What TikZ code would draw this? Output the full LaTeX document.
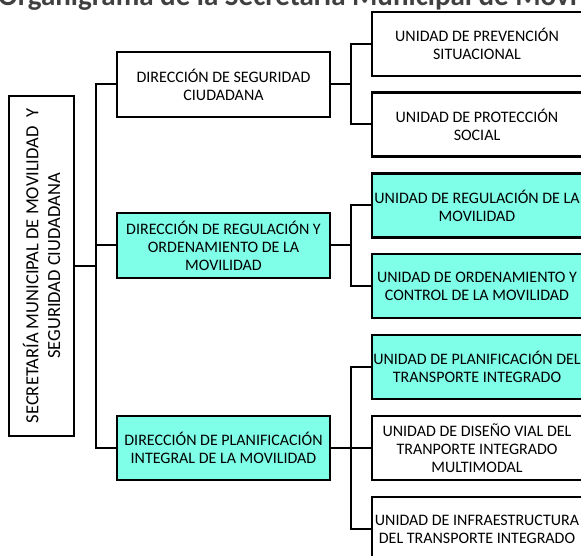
\documentclass[tikz,border=0pt]{standalone}
\usepackage{fontspec}
\setmainfont{Carlito}
\definecolor{aqua}{RGB}{128,255,232}
\definecolor{titlegray}{RGB}{64,64,64}
\begin{document}
\begin{tikzpicture}[x=1pt,y=-1pt,
  box/.style={draw=black, line width=2.4pt, align=center, inner sep=0pt, fill=white,
    font=\fontsize{16}{18}\selectfont},
  unitbox/.style={box, minimum width=210pt, minimum height=64pt},
  dirbox/.style={box, minimum width=213pt, minimum height=65pt},
  hl/.style={fill=aqua},
  conn/.style={line width=2pt},
  thickconn/.style={line width=2.8pt}]
\useasboundingbox (0,0) rectangle (581,556);

\node[anchor=base west, inner sep=0pt, text=titlegray,
      font=\fontsize{29}{30}\selectfont\bfseries] (title) at (-2,6)
  {Organigrama de la Secretaría Municipal de Movi};

% Secretaria
\node[box, rotate=90, minimum width=340pt, minimum height=65pt,
      font=\fontsize{18.5}{21.7}\selectfont] (sec) at (41.5,266)
  {SECRETARÍA MUNICIPAL DE MOVILIDAD\ \ Y\\SEGURIDAD CIUDADANA};

% Direcciones
\node[dirbox] (ds) at (223.5,84.5) {DIRECCIÓN DE SEGURIDAD\\CIUDADANA};
\node[dirbox, hl] (dr) at (223.5,245.5) {DIRECCIÓN DE REGULACIÓN Y\\ORDENAMIENTO DE LA\\MOVILIDAD};
\node[dirbox, hl, minimum height=64pt] (dp) at (223.5,448) {DIRECCIÓN DE PLANIFICACIÓN\\INTEGRAL DE LA MOVILIDAD};

% Unidades
\node[unitbox] (u1) at (477,44) {UNIDAD DE PREVENCIÓN\\SITUACIONAL};
\node[unitbox] (u2) at (477,124.5) {UNIDAD DE PROTECCIÓN\\SOCIAL};
\node[unitbox, hl] (u3) at (477,205.5) {UNIDAD DE REGULACIÓN DE LA\\MOVILIDAD};
\node[unitbox, hl] (u4) at (477,286) {UNIDAD DE ORDENAMIENTO Y\\CONTROL DE LA MOVILIDAD};
\node[unitbox, hl] (u5) at (477,367) {UNIDAD DE PLANIFICACIÓN DEL\\TRANSPORTE INTEGRADO};
\node[unitbox] (u6) at (477,448) {UNIDAD DE DISEÑO VIAL DEL\\TRANPORTE INTEGRADO\\MULTIMODAL};
\node[unitbox] (u7) at (477,529) {UNIDAD DE INFRAESTRUCTURA\\DEL TRANSPORTE INTEGRADO};

% junction coordinates
\coordinate (tr) at (96,266);
\coordinate (b1) at (351,84.5);
\coordinate (b2) at (351,245.5);
\coordinate (b3) at (351,448);

% connectors
\draw[thickconn] (sec.south) -- (tr);
\draw[conn] (ds.west) -| (tr) |- (dp.west);
\draw[conn] (dr.west) -- (dr.west -| tr);

\draw[conn] (ds.east) -- (b1);
\draw[conn] (u1.west) -| (b1) |- (u2.west);

\draw[conn] (dr.east) -- (b2);
\draw[conn] (u3.west) -| (b2) |- (u4.west);

\draw[thickconn] (dp.east) -- (b3);
\draw[conn] (b3) -- (u6.west);
\draw[conn] (u5.west) -| (b3) |- (u7.west);
\end{tikzpicture}
\end{document}
